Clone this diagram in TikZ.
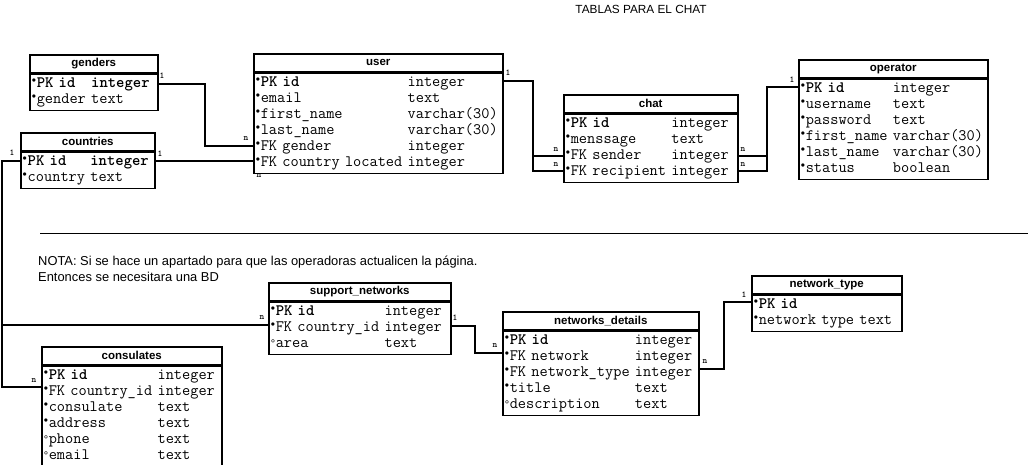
\documentclass[tikz,border=0pt]{standalone}
\usepackage{fontspec}
\setmainfont{Liberation Sans}
\DeclareRobustCommand\tabfont{\fontfamily{lmtt}\fontseries{m}\fontsize{15.9}{16}\selectfont\spaceskip=0.525em\relax}
\usetikzlibrary{positioning}

% marks in front of the columns
\newcommand\req{\makebox[5pt][l]{\normalfont\raisebox{2.5pt}{\fontsize{12}{12}\selectfont\textbullet}}}
\newcommand\opt{\makebox[5pt][l]{\normalfont\fontsize{11}{11}\selectfont\textdegree}}

\begin{document}
\begin{tikzpicture}[
    x=1pt, y=-1pt,
    tabhead/.style={
      rectangle, draw=black, line width=1.5pt, anchor=north west,
      minimum height=18pt, inner sep=0pt,
      font=\bfseries\fontsize{11.5}{13}\selectfont,
    },
    tabrows/.style={
      rectangle, draw=black, line width=1.5pt, anchor=north west,
      inner xsep=2pt, inner ysep=2pt, align=left,
      font=\tabfont,
    },
    link/.style={line width=1.5pt},
    card/.style={font=\fontfamily{lmtt}\bfseries\fontsize{9}{9}\selectfont, inner sep=0pt},
  ]
  \useasboundingbox (0,0) rectangle (1028,464);

  % Title and note
  \node[font=\fontsize{11.8}{13}\selectfont] (title) at (641,9) {TABLAS PARA EL CHAT};
  \draw[line width=1pt] (40,233) -- (1028,233);
  \node[anchor=north west, align=left, inner sep=0pt, font=\fontsize{12.9}{16}\selectfont] (note) at (38,256)
    {NOTA: Si se hace un apartado para que las operadoras actualicen la página.\\Entonces se necesitara una BD};

  % Upper tables
  \node[tabhead, minimum width=128pt] (genders) at (29,54) {genders};
  \node[tabrows, text width=124pt] (gendersrows) at (genders.south west) {%
    \begin{tabular}{@{}l@{\ }l@{}}
      \req\textbf{PK id} & \textbf{integer}\\
      \req gender & text
    \end{tabular}};

  \node[tabhead, minimum width=134pt] (countries) at (20,132) {countries};
  \node[tabrows, text width=130pt] (countriesrows) at (countries.south west) {%
    \begin{tabular}{@{}l@{\ }l@{}}
      \req\textbf{PK id} & \textbf{integer}\\
      \req country & text
    \end{tabular}};

  \node[tabhead, minimum width=249pt] (user) at (253,53) {user};
  \node[tabrows, text width=245pt] (userrows) at (user.south west) {%
    \begin{tabular}{@{}l@{\ }l@{}}
      \req\textbf{PK id} & integer\\
      \req email & text\\
      \req first\_name & varchar(30)\\
      \req last\_name & varchar(30)\\
      \req FK gender & integer\\
      \req FK country located & integer
    \end{tabular}};

  \node[tabhead, minimum width=174pt] (chat) at (563,94) {chat};
  \node[tabrows, text width=170pt] (chatrows) at (chat.south west) {%
    \begin{tabular}{@{}l@{\ }l@{}}
      \req\textbf{PK id} & integer\\
      \req menssage & text\\
      \req FK sender & integer\\
      \req FK recipient & integer
    \end{tabular}};

  \node[tabhead, minimum width=189pt] (operator) at (798,59) {operator};
  \node[tabrows, text width=185pt] (operatorrows) at (operator.south west) {%
    \begin{tabular}{@{}l@{\ }l@{}}
      \req\textbf{PK id} & integer\\
      \req username & text\\
      \req password & text\\
      \req first\_name & varchar(30)\\
      \req last\_name & varchar(30)\\
      \req status & boolean
    \end{tabular}};

  % Lower tables
  \node[tabhead, minimum width=182pt] (support) at (268,282) {support\_networks};
  \node[tabrows, text width=178pt] (supportrows) at (support.south west) {%
    \begin{tabular}{@{}l@{\ }l@{}}
      \req\textbf{PK id} & integer\\
      \req FK country\_id & integer\\
      \opt area & text
    \end{tabular}};

  \node[tabhead, minimum width=196pt] (details) at (502,311) {networks\_details};
  \node[tabrows, text width=192pt] (detailsrows) at (details.south west) {%
    \begin{tabular}{@{}l@{\ }l@{}}
      \req\textbf{PK id} & integer\\
      \req FK network & integer\\
      \req FK network\_type & integer\\
      \req title & text\\
      \opt description & text
    \end{tabular}};

  \node[tabhead, minimum width=150pt] (ntype) at (751,275) {network\_type};
  \node[tabrows, text width=146pt] (ntyperows) at (ntype.south west) {%
    \begin{tabular}{@{}l@{\ }l@{}}
      \req\textbf{PK id} & \\
      \req network type & text
    \end{tabular}};

  \node[tabhead, minimum width=180pt] (consulates) at (41,346) {consulates};
  \node[tabrows, text width=176pt] (consulatesrows) at (consulates.south west) {%
    \begin{tabular}{@{}l@{\ }l@{}}
      \req\textbf{PK id} & integer\\
      \req FK country\_id & integer\\
      \req consulate & text\\
      \req address & text\\
      \opt phone & text\\
      \opt email & text
    \end{tabular}};

  % Relations
  \draw[link] (gendersrows.east |- 0,84) -| (205,146) -- (userrows.west |- 0,146);
  \draw[link] (countriesrows.east |- 0,161) -- (userrows.west |- 0,161);
  \coordinate (split) at (2,325);
  \draw[link] (countriesrows.west |- 0,161) -- (2,161) |- (consulatesrows.west |- 0,387);
  \draw[link] (split) -- (supportrows.west |- split);
  \coordinate (chatin) at (533,156);
  \draw[link] (userrows.east |- 0,81) -| (533,171) -- (chatrows.west |- 0,171);
  \draw[link] (chatin) -- (chatrows.west |- chatin);
  \coordinate (chatout) at (767,156);
  \draw[link] (chatrows.east |- 0,171) -| (767,87) -- (operatorrows.west |- 0,87);
  \draw[link] (chatrows.east |- chatout) -- (chatout);
  \draw[link] (supportrows.east |- 0,326) -| (475,353) -- (detailsrows.west |- 0,353);
  \draw[link] (detailsrows.east |- 0,369) -| (724,302) -- (ntyperows.west |- 0,302);

  % Cardinalities
  \node[card] (g1) at (162,76) {1};
  \node[card] (g2) at (246,139) {n};
  \node[card] (c1) at (160,154) {1};
  \node[card] (c2) at (259,176) {n};
  \node[card] (c3) at (12,153) {1};
  \node[card] (c4) at (262,318) {n};
  \node[card] (c5) at (34,381) {n};
  \node[card] (u1) at (508,73) {1};
  \node[card] (u2) at (556,150) {n};
  \node[card] (u3) at (556,165) {n};
  \node[card] (o1) at (743,150) {n};
  \node[card] (o2) at (743,165) {n};
  \node[card] (o3) at (792,80) {1};
  \node[card] (s1) at (455,318) {1};
  \node[card] (s2) at (495,346) {n};
  \node[card] (t1) at (705,362) {n};
  \node[card] (t2) at (744,295) {1};

\end{tikzpicture}
\end{document}
